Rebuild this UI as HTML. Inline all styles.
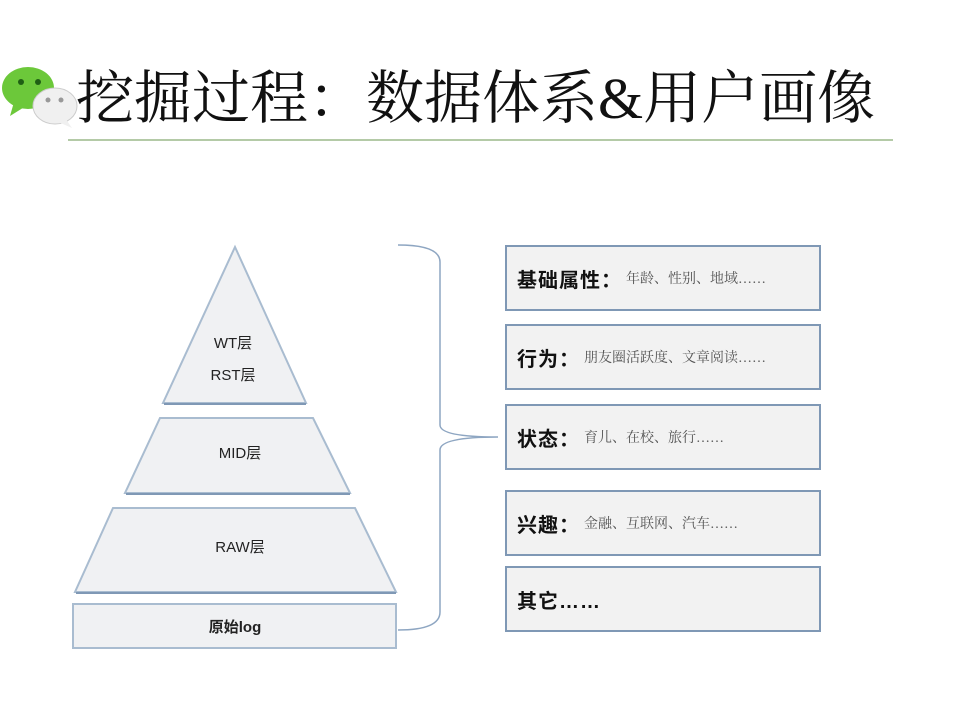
<!DOCTYPE html>
<html><head><meta charset="utf-8"><style>
body{margin:0;width:960px;height:720px;background:#fff;position:relative;overflow:hidden;font-family:"Liberation Sans","Noto Sans CJK SC",sans-serif}
.t{position:absolute;left:76px;top:64px;font-family:"Liberation Serif","Noto Serif CJK SC",serif;font-size:58px;letter-spacing:0px;color:#111;white-space:nowrap;line-height:70px}
.box{position:absolute;left:505px;width:316px;height:66px;background:#f2f2f2;border:2px solid #7f98b5;box-sizing:border-box;display:flex;align-items:center;padding-left:10px;white-space:nowrap}
.box b{font-size:20px;color:#111;font-family:"Liberation Sans","Noto Sans CJK SC",sans-serif;letter-spacing:1px}
.box span{font-size:14px;color:#555;font-family:"Liberation Serif","Noto Serif CJK SC",serif;margin-left:4px}
</style></head><body>
<svg width="960" height="720" style="position:absolute;left:0;top:0">
<ellipse cx="28" cy="88" rx="26" ry="21" fill="#6cc83a"/>
<path d="M14 102 L10 116 L26 106Z" fill="#6cc83a"/>
<circle cx="21" cy="82" r="3" fill="#1f5f14"/><circle cx="38" cy="82" r="3" fill="#1f5f14"/>
<ellipse cx="55" cy="106" rx="22" ry="18" fill="#f0f0f0" stroke="#ccc"/>
<path d="M65 118 L72 128 L56 121Z" fill="#f0f0f0"/>
<circle cx="48" cy="100" r="2.5" fill="#999"/><circle cx="61" cy="100" r="2.5" fill="#999"/>
<line x1="68" y1="140" x2="893" y2="140" stroke="#9bb88a" stroke-width="1.5"/>
<g fill="#f0f1f3" stroke="#a9bcd0" stroke-width="2">
<polygon points="235,247 306,403 163,403"/>
<polygon points="160,418 313,418 350,493 125,493"/>
<polygon points="113,508 355,508 396,592 75,592"/>
<rect x="73" y="604" width="323" height="44"/>
</g>
<g stroke="#7f98b5" stroke-width="2" fill="none">
<line x1="164" y1="404" x2="306" y2="404"/><line x1="126" y1="494" x2="350" y2="494"/><line x1="76" y1="593" x2="396" y2="593"/>
</g>
<path d="M398 245 Q440 245 440 262 L440 425 Q440 437 498 437 Q440 437 440 450 L440 612 Q440 630 398 630" fill="none" stroke="#8ea6c2" stroke-width="1.5"/>
<g font-size="15" fill="#222" text-anchor="middle" font-family="Liberation Sans,Noto Sans CJK SC,sans-serif">
<text x="233" y="348">WT层</text><text x="233" y="380">RST层</text>
<text x="240" y="458">MID层</text><text x="240" y="552">RAW层</text>
<text x="235" y="632" font-weight="bold">原始log</text>
</g>
</svg>
<div class="t">挖掘过程：数据体系&amp;用户画像</div>
<div class="box" style="top:245px"><b>基础属性：</b><span>年龄、性别、地域……</span></div>
<div class="box" style="top:324px"><b>行为：</b><span>朋友圈活跃度、文章阅读……</span></div>
<div class="box" style="top:404px"><b>状态：</b><span>育儿、在校、旅行……</span></div>
<div class="box" style="top:490px"><b>兴趣：</b><span>金融、互联网、汽车……</span></div>
<div class="box" style="top:566px"><b>其它……</b></div>
</body></html>
